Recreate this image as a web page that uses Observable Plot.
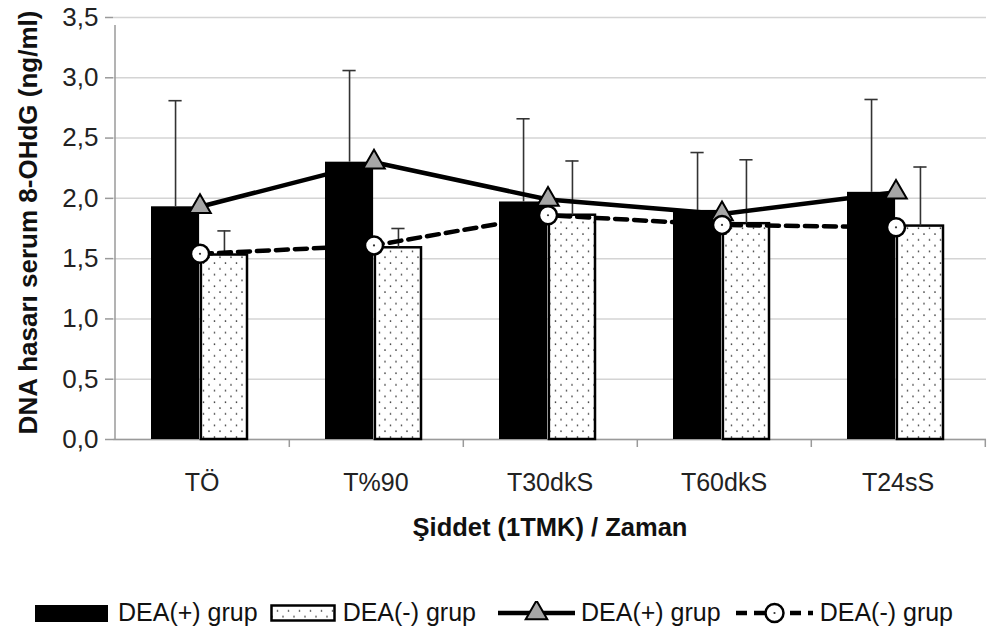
<!DOCTYPE html>
<html>
<head>
<meta charset="utf-8">
<script src="https://cdn.jsdelivr.net/npm/d3@7"></script>
<script src="https://cdn.jsdelivr.net/npm/@observablehq/plot@0.6"></script>
<style>
  html, body { margin: 0; padding: 0; background: white; }
  body { width: 987px; height: 637px; overflow: hidden; font-family: "Liberation Sans", sans-serif; }
  #legend { display: flex; align-items: center; height: 57px; padding-left: 35px; padding-top: 8px; box-sizing: border-box; font-size: 25px; color: #111; }
  #legend .sw { display: block; flex: none; }
  #legend .lbl { white-space: nowrap; flex: none; }
</style>
</head>
<body>
<div id="chart"></div>
<div id="legend"></div>
<script>
// ---- data ----
const categories = ["TÖ", "T%90", "T30dkS", "T60dkS", "T24sS"];
const barPlus = [1.93, 2.30, 1.97, 1.90, 2.05];        // DEA(+) grup bars
const barMinus = [1.53, 1.59, 1.86, 1.79, 1.77];       // DEA(-) grup bars
const upperPlus = [2.81, 3.06, 2.66, 2.38, 2.82];      // error bar tops DEA(+)
const upperMinus = [1.73, 1.75, 2.31, 2.32, 2.26];     // error bar tops DEA(-)
const linePlus = [1.93, 2.30, 1.99, 1.87, 2.05];       // DEA(+) grup line
const lineMinus = [1.54, 1.61, 1.86, 1.78, 1.76];      // DEA(-) grup line
const yTicks = [0, 0.5, 1.0, 1.5, 2.0, 2.5, 3.0, 3.5];
const seriesNames = ["DEA(+) grup", "DEA(-) grup", "DEA(+) grup", "DEA(-) grup"];
const yTitle = "DNA hasarı serum 8-OHdG (ng/ml)";
const xTitle = "Şiddet (1TMK) / Zaman";

const rows = categories.map((c, i) => ({
  cat: c, plus: barPlus[i], minus: barMinus[i],
  plusUp: upperPlus[i], minusUp: upperMinus[i],
  lp: linePlus[i], lm: lineMinus[i]
}));

const FONT = "'Liberation Sans', sans-serif";
const fmt = d => d.toFixed(1).replace(".", ",");
const step = 174.6, bw = 97.8, half = bw / 2;

const svg = Plot.plot({
  width: 987,
  height: 580,
  marginLeft: 113,
  marginRight: 1,
  marginTop: 17,
  marginBottom: 141,
  style: { fontFamily: FONT, fontSize: "25px", color: "#222", background: "white", overflow: "visible" },
  x: { domain: categories, paddingInner: 0.44, paddingOuter: 0.22, axis: null, label: null },
  y: { domain: [0, 3.5], axis: null, label: null },
  marks: [
    Plot.gridY(yTicks, { stroke: "#d4d4d4", strokeOpacity: 1, strokeWidth: 1.5 }),
    Plot.axisY(yTicks, { tickSize: 8, tickPadding: 7, tickFormat: fmt, stroke: "#9a9a9a", strokeWidth: 1.5, label: null, fontSize: 26, fill: "#222" }),
    // y axis line (extends slightly below zero)
    Plot.ruleX([categories[0]], { x: d => d, y1: 0, y2: 3.5, dx: -step / 2 + 0.3, insetBottom: -8, stroke: "#9a9a9a", strokeWidth: 1.5 }),
    // x axis baseline
    Plot.ruleY([0], { stroke: "#9a9a9a", strokeWidth: 1.5 }),
    // x tick marks at category boundaries
    Plot.axisX(categories, { tickSize: 8, tickFormat: () => "", dx: step / 2, stroke: "#9a9a9a", strokeWidth: 1.5, label: null }),
    // x labels
    Plot.axisX(categories, { tickSize: 0, tickPadding: 34, fontSize: 25, fill: "#222", label: null }),
    // bars
    Plot.barY(rows, { x: "cat", y: "plus", fill: "black", insetRight: half, dx: -2 }),
    Plot.barY(rows, { x: "cat", y: "minus", fill: "url(#dots)", stroke: "black", strokeWidth: 2.5, insetLeft: half + 1, insetRight: 1, dx: -2 }),
    // error bars
    Plot.ruleX(rows, { x: "cat", y1: "plus", y2: "plusUp", dx: -half / 2 - 2, stroke: "#333", strokeWidth: 1.6 }),
    Plot.tickY(rows, { x: "cat", y: "plusUp", insetLeft: half / 2 - 7, insetRight: bw - half / 2 - 7, dx: -2, stroke: "#333", strokeWidth: 1.6 }),
    Plot.ruleX(rows, { x: "cat", y1: "minus", y2: "minusUp", dx: half / 2 - 2, stroke: "#333", strokeWidth: 1.6 }),
    Plot.tickY(rows, { x: "cat", y: "minusUp", insetLeft: half + half / 2 - 7, insetRight: half / 2 - 7, dx: -2, stroke: "#333", strokeWidth: 1.6 }),
    // lines
    Plot.line(rows, { x: "cat", y: "lp", stroke: "black", strokeWidth: 4.5, dx: -2 }),
    Plot.line(rows, { x: "cat", y: "lm", stroke: "black", strokeWidth: 4.5, strokeDasharray: "12,7", dx: -2 }),
    Plot.dot(rows, { x: "cat", y: "lp", symbol: "triangle", r: 8, fill: "#a6a6a6", stroke: "black", strokeWidth: 2, dx: -2 }),
    Plot.dot(rows, { x: "cat", y: "lm", r: 9, fill: "white", stroke: "black", strokeWidth: 2.5, dx: -2 }),
    Plot.dot(rows, { x: "cat", y: "lm", r: 1.1, fill: "#333", dx: -2 }),
    // titles
    Plot.text([yTitle], { frameAnchor: "left", dx: -85, dy: -6, rotate: -90, fontWeight: "bold", fontSize: 26, fill: "#111", textAnchor: "middle", lineAnchor: "middle" }),
    Plot.text([xTitle], { frameAnchor: "bottom", dy: 88, fontWeight: "bold", fontSize: 25.5, fill: "#111", lineAnchor: "middle" })
  ]
});

// dotted pattern definition
const defs = d3.select(svg).insert("defs", ":first-child");
const pat = defs.append("pattern").attr("id", "dots").attr("patternUnits", "userSpaceOnUse").attr("width", 11).attr("height", 11.6);
pat.append("rect").attr("width", 11).attr("height", 11.6).attr("fill", "white");
pat.append("circle").attr("cx", 2).attr("cy", 2).attr("r", 0.85).attr("fill", "#333");
pat.append("circle").attr("cx", 7.5).attr("cy", 7.8).attr("r", 0.85).attr("fill", "#333");

document.getElementById("chart").appendChild(svg);

// legend
const legend = d3.select("#legend");
function swatch(w, h, ml, draw) {
  const s = legend.append("svg").attr("class", "sw").attr("width", w).attr("height", h).style("margin-left", ml + "px");
  draw(s);
}
function label(text, ml) {
  legend.append("span").attr("class", "lbl").style("margin-left", ml + "px").text(text);
}
swatch(73, 20, 0, s => s.append("rect").attr("x", 0).attr("y", 2).attr("width", 73).attr("height", 17).attr("fill", "black"));
label(seriesNames[0], 10);
swatch(66, 20, 12, s => s.append("rect").attr("x", 1.5).attr("y", 2.5).attr("width", 63).attr("height", 15).attr("fill", "url(#dots)").attr("stroke", "black").attr("stroke-width", 2.5));
label(seriesNames[1], 7);
swatch(77, 24, 22, s => {
  s.append("line").attr("x1", 0).attr("x2", 77).attr("y1", 12).attr("y2", 12).attr("stroke", "black").attr("stroke-width", 4.5);
  s.append("path").attr("d", d3.symbol(d3.symbolTriangle, Math.PI * 64)()).attr("transform", "translate(38.5,12)").attr("fill", "#a6a6a6").attr("stroke", "black").attr("stroke-width", 2);
});
label(seriesNames[2], 6);
swatch(77, 24, 15, s => {
  s.append("line").attr("x1", 0).attr("x2", 77).attr("y1", 12).attr("y2", 12).attr("stroke", "black").attr("stroke-width", 4.5).attr("stroke-dasharray", "11,7");
  s.append("circle").attr("cx", 38.5).attr("cy", 12).attr("r", 9).attr("fill", "white").attr("stroke", "black").attr("stroke-width", 2.5);
  s.append("circle").attr("cx", 38.5).attr("cy", 12).attr("r", 1.1).attr("fill", "#333");
});
label(seriesNames[3], 7);
</script>
</body>
</html>
